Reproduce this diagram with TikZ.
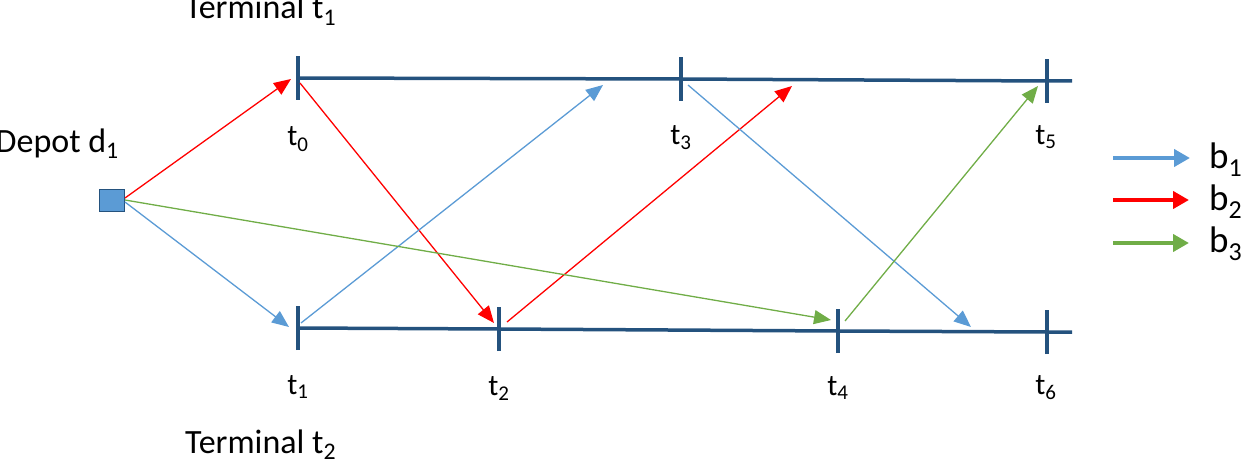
\documentclass[tikz,border=0pt]{standalone}
\usepackage{fontspec}
\setmainfont{Carlito}
\usetikzlibrary{arrows.meta}
\definecolor{lineblue}{HTML}{24527E}
\definecolor{bone}{HTML}{5B9BD5}
\definecolor{btwo}{HTML}{FF0000}
\definecolor{bthree}{HTML}{70AD47}
\tikzset{
  tl/.style={draw=lineblue, line width=3.5pt},
  tick/.style={draw=lineblue, line width=3.5pt},
  tlab/.style={anchor=base, inner sep=0pt, font=\fontsize{30}{36}\selectfont},
  big/.style={inner sep=0pt, font=\fontsize{34}{40}\selectfont},
  legt/.style={inner sep=0pt, font=\fontsize{37}{42}\selectfont},
  arr/.style={line width=1.3pt, -{Triangle[length=17pt,width=14pt]}},
  leg/.style={line width=4.5pt, -{Triangle[length=16pt,width=17pt]}},
}
\begin{document}
\begin{tikzpicture}[x=1pt,y=-1pt]
\useasboundingbox (0,0) rectangle (1249,468);
% timelines
\coordinate (A0) at (298,78);
\coordinate (A3) at (681,79);
\coordinate (A5) at (1047,81);
\coordinate (Aend) at (1072,81);
\coordinate (B1) at (298,328);
\coordinate (B2) at (499,329);
\coordinate (B4) at (838,331);
\coordinate (B6) at (1047,332);
\coordinate (Bend) at (1072,332);
\draw[tl] (A0) -- (A3) -- (A5) -- (Aend);
\draw[tl] (B1) -- (B2) -- (B4) -- (B6) -- (Bend);
\foreach \c in {A0,A3,A5,B1,B2,B4,B6}{
  \draw[tick] ([yshift=-22pt]\c) -- ([yshift=22pt]\c);
}
% labels
\node[tlab] (l0) at (298,146) {t\textsubscript{0}};
\node[tlab] (l3) at (681,144) {t\textsubscript{3}};
\node[tlab] (l5) at (1046,144) {t\textsubscript{5}};
\node[tlab] (l1) at (298,394) {t\textsubscript{1}};
\node[tlab] (l2) at (499,395) {t\textsubscript{2}};
\node[tlab] (l4) at (838,395) {t\textsubscript{4}};
\node[tlab] (l6) at (1046,394) {t\textsubscript{6}};
\node[big, anchor=base west] (term1) at (185,19) {Terminal t\textsubscript{1}};
\node[big, anchor=base west] (term2) at (185,453) {Terminal t\textsubscript{2}};
\node[big, anchor=base east] (deplab) at (119,152) {Depot d\textsubscript{1}};
% depot
\node[draw=lineblue, fill=bone, line width=1pt, minimum width=25pt, minimum height=22pt, inner sep=0pt] (depot) at (112,200) {};
% arrow endpoints
\coordinate (s0) at (300,83);
\coordinate (s1) at (301,323);
\coordinate (s2) at (507,322);
\coordinate (s3) at (688,85);
\coordinate (s4) at (845,321);
\coordinate (e0) at (291,79);
\coordinate (e1) at (289,327);
\coordinate (e2) at (494,323);
\coordinate (e4) at (831,320);
\coordinate (eb) at (603,85);
\coordinate (er) at (792,86);
\coordinate (eg) at (1038,86);
\coordinate (ebb) at (971,327);
% red b2
\draw[arr, btwo] (depot.east) ++(0,-2) -- (e0);
\draw[arr, btwo] (s0) -- (e2);
\draw[arr, btwo] (s2) -- (er);
% blue b1
\draw[arr, bone] (depot.east) ++(0,2) -- (e1);
\draw[arr, bone] (s1) -- (eb);
\draw[arr, bone] (s3) -- (ebb);
% green b3
\draw[arr, bthree] (depot.east) -- (e4);
\draw[arr, bthree] (s4) -- (eg);
% legend
\coordinate (lb1) at (1113,158); \coordinate (lb2) at (1190,158);
\coordinate (lr1) at (1113,200); \coordinate (lr2) at (1189,200);
\coordinate (lg1) at (1113,243); \coordinate (lg2) at (1189,243);
\draw[leg, bone] (lb1) -- (lb2);
\draw[leg, btwo] (lr1) -- (lr2);
\draw[leg, bthree] (lg1) -- (lg2);
\node[legt, anchor=base west] (b1) at (1209,168) {b\textsubscript{1}};
\node[legt, anchor=base west] (b2) at (1209,210) {b\textsubscript{2}};
\node[legt, anchor=base west] (b3) at (1209,252) {b\textsubscript{3}};
\end{tikzpicture}
\end{document}
